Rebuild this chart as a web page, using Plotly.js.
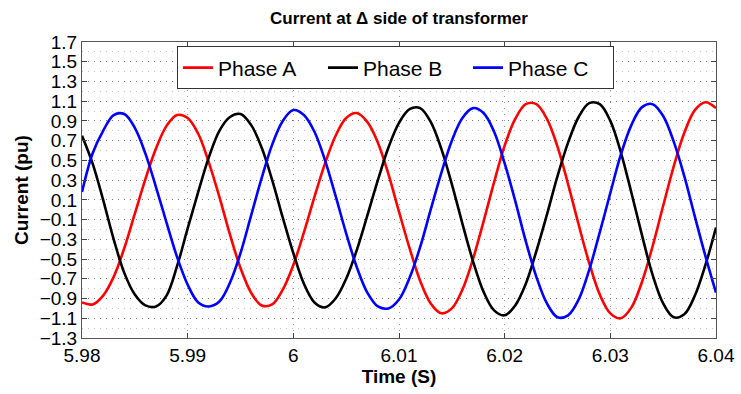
<!DOCTYPE html>
<html>
<head>
<meta charset="utf-8">
<script src="https://cdn.plot.ly/plotly-3.0.1.min.js"></script>
<style>
  html, body { margin: 0; padding: 0; background: #ffffff; }
  #chart { width: 741px; height: 394px; }
</style>
</head>
<body>
<div id="chart"></div>
<script>
// Time samples (s)
const time = [
  5.980, 5.981, 5.982, 5.983, 5.984, 5.985, 5.986, 5.987, 5.988, 5.989,
  5.990, 5.991, 5.992, 5.993, 5.994, 5.995, 5.996, 5.997, 5.998, 5.999,
  6.000, 6.001, 6.002, 6.003, 6.004, 6.005, 6.006, 6.007, 6.008, 6.009,
  6.010, 6.011, 6.012, 6.013, 6.014, 6.015, 6.016, 6.017, 6.018, 6.019,
  6.020, 6.021, 6.022, 6.023, 6.024, 6.025, 6.026, 6.027, 6.028, 6.029,
  6.030, 6.031, 6.032, 6.033, 6.034, 6.035, 6.036, 6.037, 6.038, 6.039,
  6.040
];

// Phase currents (pu)
const phaseA = [
  -0.94, -0.96, -0.87, -0.68, -0.39, -0.04, 0.31, 0.62, 0.85, 0.96,
  0.93, 0.77, 0.48, 0.13, -0.25, -0.59, -0.84, -0.97, -0.96, -0.81,
  -0.56, -0.23, 0.13, 0.47, 0.75, 0.93, 0.98, 0.89, 0.68, 0.36,
  -0.02, -0.39, -0.72, -0.95, -1.05, -1.00, -0.81, -0.50, -0.12, 0.28,
  0.65, 0.92, 1.07, 1.07, 0.92, 0.64, 0.26, -0.15, -0.54, -0.86,
  -1.05, -1.10, -0.99, -0.73, -0.37, 0.04, 0.44, 0.78, 1.01, 1.09,
  1.03
];
const phaseB = [
  0.75, 0.47, 0.10, -0.30, -0.64, -0.86, -0.97, -0.98, -0.87, -0.57,
  -0.19, 0.18, 0.53, 0.80, 0.94, 0.97, 0.86, 0.63, 0.30, -0.08,
  -0.44, -0.75, -0.94, -0.99, -0.90, -0.70, -0.41, -0.06, 0.30, 0.63,
  0.88, 1.02, 1.03, 0.89, 0.62, 0.26, -0.14, -0.52, -0.83, -1.02,
  -1.07, -0.97, -0.75, -0.42, -0.05, 0.34, 0.68, 0.94, 1.08, 1.07,
  0.90, 0.58, 0.17, -0.26, -0.66, -0.95, -1.09, -1.06, -0.87, -0.56,
  -0.18
];
const phaseC = [
  0.18, 0.57, 0.80, 0.96, 0.97, 0.83, 0.57, 0.23, -0.13, -0.48,
  -0.76, -0.94, -0.98, -0.93, -0.74, -0.44, -0.06, 0.32, 0.66, 0.90,
  1.01, 0.96, 0.79, 0.50, 0.14, -0.24, -0.58, -0.84, -0.98, -1.00,
  -0.91, -0.69, -0.38, 0.00, 0.37, 0.70, 0.93, 1.03, 0.98, 0.79,
  0.47, 0.09, -0.32, -0.68, -0.95, -1.09, -1.07, -0.91, -0.61, -0.23,
  0.17, 0.56, 0.86, 1.04, 1.07, 0.95, 0.69, 0.34, -0.07, -0.47,
  -0.84
];

const seriesNames = ["Phase A", "Phase B", "Phase C"];
const seriesColors = ["#ff0000", "#000000", "#0000ff"];

// Tick labels
const xTickVals = [5.98, 5.99, 6.00, 6.01, 6.02, 6.03, 6.04];
const xTickText = ["5.98", "5.99", "6", "6.01", "6.02", "6.03", "6.04"];
const yTickVals = [-1.3, -1.1, -0.9, -0.7, -0.5, -0.3, -0.1, 0.1, 0.3, 0.5, 0.7, 0.9, 1.1, 1.3, 1.5, 1.7];
const yTickText = ["\u22121.3", "\u22121.1", "\u22120.9", "\u22120.7", "\u22120.5", "\u22120.3", "\u22120.1",
                   "0.1", "0.3", "0.5", "0.7", "0.9", "1.1", "1.3", "1.5", "1.7"];

const FONT = "Liberation Sans, Arial, Helvetica, sans-serif";

const ys = [phaseA, phaseB, phaseC];
const traces = ys.map((y, i) => ({
  type: "scatter",
  mode: "lines",
  x: time,
  y: y,
  name: seriesNames[i],
  line: { color: seriesColors[i], width: 2.6, shape: "spline", smoothing: 1 }
}));

const layout = {
  width: 741,
  height: 394,
  margin: { l: 82, r: 25, t: 42, b: 56 },
  paper_bgcolor: "#ffffff",
  plot_bgcolor: "#ffffff",
  font: { family: FONT, color: "#000000", size: 19 },
  title: {
    text: "<b>Current at \u0394 side of transformer</b>",
    font: { family: FONT, size: 17, color: "#000000" },
    x: 0.5, xref: "paper", xanchor: "center",
    y: 0.955, yref: "container", yanchor: "middle"
  },
  xaxis: {
    range: [5.98, 6.04],
    tickvals: xTickVals,
    ticktext: xTickText,
    tickfont: { family: FONT, size: 19, color: "#000000" },
    ticks: "inside", ticklen: 5, tickcolor: "#444444",
    showline: true, linecolor: "#555555", linewidth: 1, mirror: "ticks",
    showgrid: true, gridcolor: "#9a9a9a", griddash: "1px,5px", gridwidth: 1,
    zeroline: false,
    title: { text: "<b>Time (S)</b>", font: { family: FONT, size: 19, color: "#000000" }, standoff: 2 }
  },
  yaxis: {
    range: [-1.3, 1.7],
    tickvals: yTickVals,
    ticktext: yTickText,
    tickfont: { family: FONT, size: 19, color: "#000000" },
    ticks: "inside", ticklen: 5, tickcolor: "#444444",
    showline: true, linecolor: "#555555", linewidth: 1, mirror: "ticks",
    showgrid: true, gridcolor: "#777777", griddash: "1px,5px", gridwidth: 1,
    minor: { tick0: -1.3, dtick: 0.1, showgrid: true, gridcolor: "#c4c4c4", griddash: "1px,5px", gridwidth: 1 },
    zeroline: false,
    ticklabelstandoff: 0,
    title: { text: "<b>Current (pu)</b>", font: { family: FONT, size: 19, color: "#000000" }, standoff: 6 }
  },
  legend: {
    orientation: "h",
    x: 0.1498, xanchor: "left",
    y: 0.985, yanchor: "top",
    bgcolor: "#ffffff",
    bordercolor: "#333333",
    borderwidth: 1,
    font: { family: FONT, size: 21, color: "#000000" },
    entrywidth: 100,
    entrywidthmode: "pixels"
  },
  showlegend: true
};

Plotly.newPlot("chart", traces, layout, { displayModeBar: false, staticPlot: true });
</script>
</body>
</html>
